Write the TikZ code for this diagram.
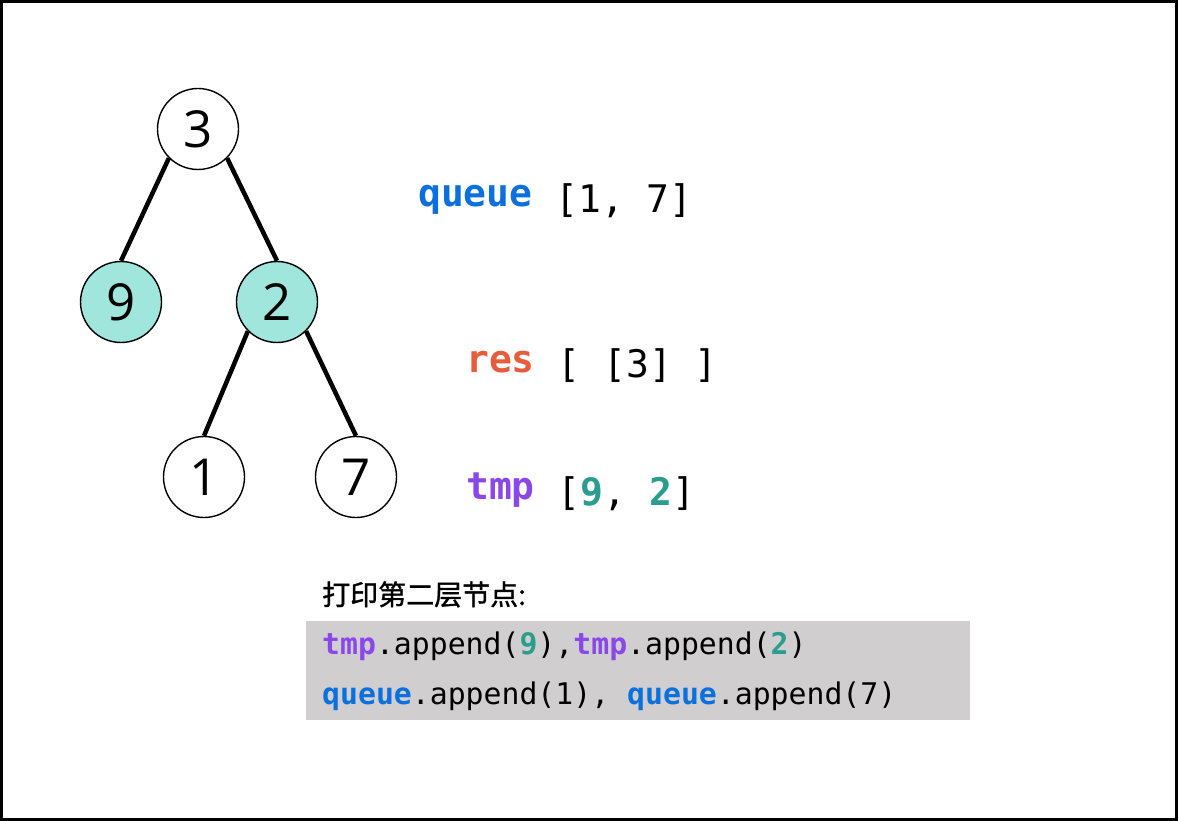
\documentclass[tikz,border=0pt]{standalone}
\usepackage{fontspec}
\setmainfont{Open Sans}
\newfontfamily\monof{DejaVu Sans Mono}
\newfontfamily\cjk[FakeBold=1.2]{Noto Sans CJK SC}
\definecolor{qblue}{HTML}{0A70DE}
\definecolor{rred}{HTML}{E65C3C}
\definecolor{tpurple}{HTML}{8A48EA}
\definecolor{tteal}{HTML}{2A9D8F}
\definecolor{nfill}{HTML}{A0E6DC}
\definecolor{boxgray}{HTML}{D0CECF}
\newcommand{\qw}{\textcolor{qblue}{\bfseries queue}}
\newcommand{\tw}{\textcolor{tpurple}{\bfseries tmp}}
\begin{document}
\begin{tikzpicture}[x=1pt,y=-1pt,
  tnode/.style={circle,draw=black,line width=1.4pt,minimum size=81pt,inner sep=0pt,font=\fontsize{51}{51}\selectfont,fill=white},
  hl/.style={fill=nfill},
  edge/.style={line width=4.5pt},
  mono/.style={font=\monof\fontsize{38}{38}\selectfont,anchor=base west,inner sep=0pt},
  code/.style={font=\monof\fontsize{29.8}{30}\selectfont,anchor=base west,inner sep=0pt}]
\useasboundingbox (0,0) rectangle (1178,821);
\draw[line width=2.5pt] (1.5,1.5) rectangle (1176.5,819.5);
\node[tnode] (n3) at (198,129) {3};
\node[tnode,hl] (n9) at (121,302) {9};
\node[tnode,hl] (n2) at (277,302) {2};
\node[tnode] (n1) at (204,477) {1};
\node[tnode] (n7) at (356,477) {7};
\draw[edge] (n3.south west) -- (n9.north);
\draw[edge] (n3.south east) -- (n2.north);
\draw[edge] (n2.south west) -- (n1.north);
\draw[edge] (n2.south east) -- (n7.north);
\node[mono] (q) at (418,213) {\raisebox{6pt}{\qw} [1, 7]};
\node[mono] (r) at (466,377) {\raisebox{5pt}{\textcolor{rred}{\bfseries res}} [ [3] ]};
\node[mono] (t) at (466,505) {\raisebox{6pt}{\tw} [\textcolor{tteal}{\bfseries 9}, \textcolor{tteal}{\bfseries 2}]};
\node[font=\cjk\fontsize{28}{28}\selectfont,anchor=base west,inner sep=0pt] (title) at (322,605) {打印第二层节点:};
\fill[boxgray] (306,621) rectangle (970,720);
\node[code] (c1) at (322,654) {\tw.append(\textcolor{tteal}{\bfseries 9}),\tw.append(\textcolor{tteal}{\bfseries 2})};
\node[code] (c2) at (322,704) {\qw.append(1), \qw.append(7)};
\end{tikzpicture}
\end{document}
